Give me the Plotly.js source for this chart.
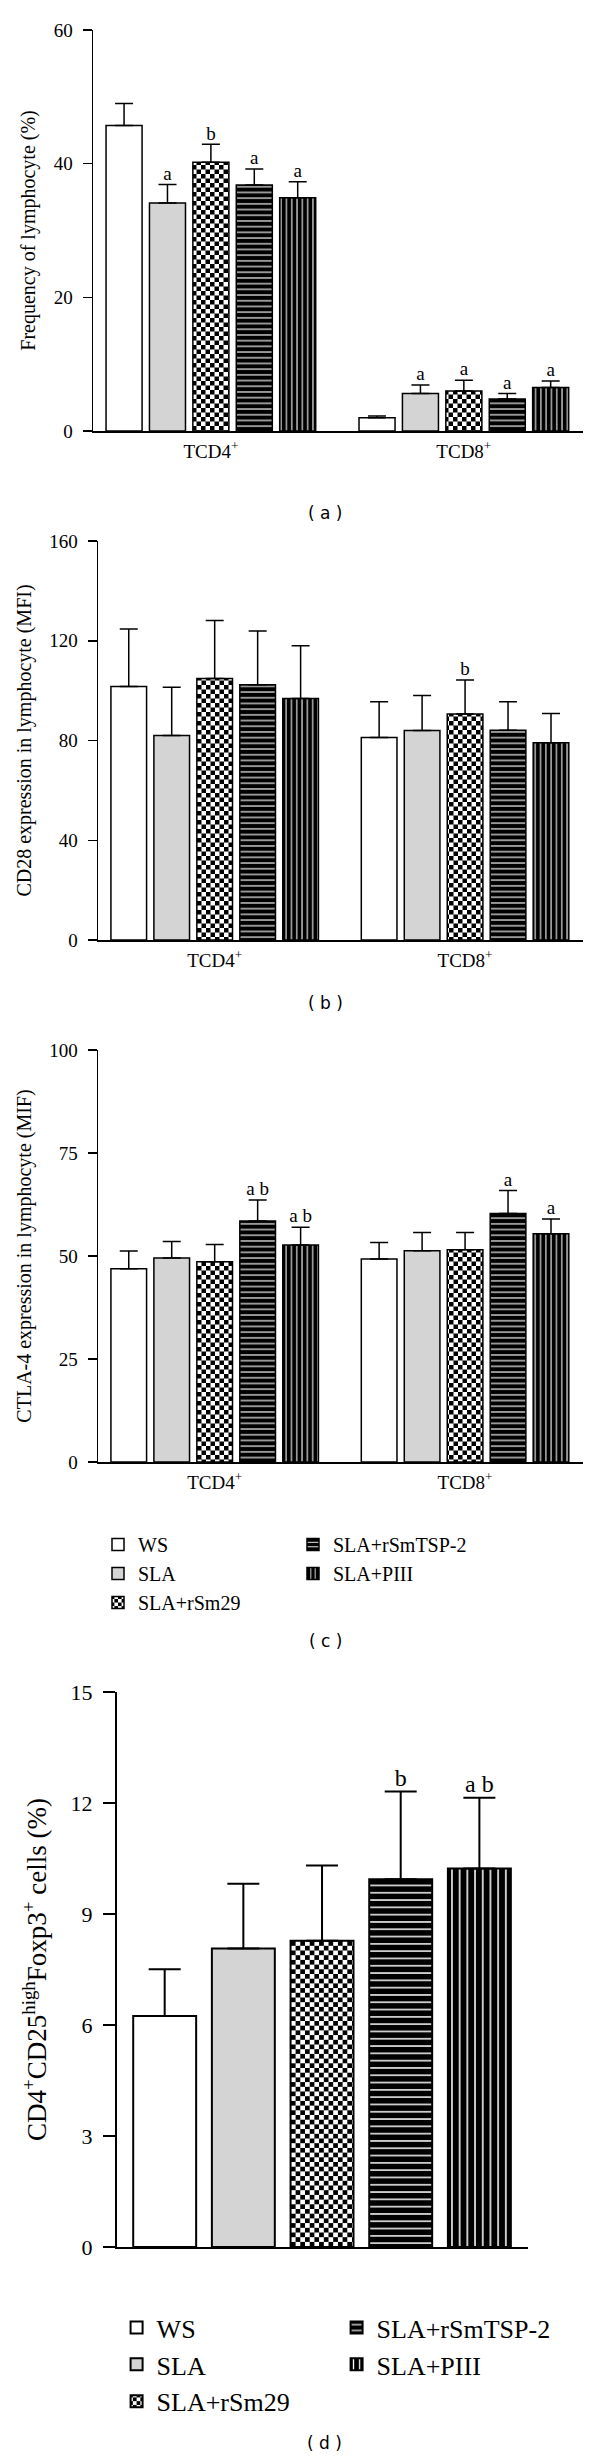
<!DOCTYPE html>
<html><head><meta charset="utf-8">
<script src="https://cdn.plot.ly/plotly-3.0.1.min.js"></script>
<style>
html,body{margin:0;padding:0;background:#fff}
body{width:600px;height:2459px;position:relative;overflow:hidden}
.p{position:absolute;left:0;width:600px}
</style></head><body>
<div id="pa" class="p" style="top:0;height:525px"></div>
<div id="pb" class="p" style="top:525px;height:505px"></div>
<div id="pc" class="p" style="top:1030px;height:630px"></div>
<div id="pd" class="p" style="top:1660px;height:799px"></div>
<script>
// ---------- data ----------
const groups = ['WS', 'SLA', 'SLA+rSm29', 'SLA+rSmTSP-2', 'SLA+PIII'];
const cellTypes = ['TCD4<sup>+</sup>', 'TCD8<sup>+</sup>'];
const legendRank = [1, 3, 5, 2, 4];

// (a) Frequency of lymphocyte (%)   [TCD4+, TCD8+] per group
const freqMean = [[45.7, 2.0], [34.1, 5.6], [40.2, 6.0], [36.8, 4.8], [34.9, 6.5]];
const freqErr  = [[3.3, 0.25], [2.8, 1.3], [2.7, 1.6], [2.4, 0.8], [2.4, 1.0]];
const freqSig  = [['', ''], ['a', 'a'], ['b', 'a'], ['a', 'a'], ['a', 'a']];

// (b) CD28 expression in lymphocyte (MFI)
const cd28Mean = [[101.7, 81.2], [82.0, 84.0], [104.9, 90.6], [102.4, 84.1], [96.8, 79.1]];
const cd28Err  = [[23.0, 14.3], [19.4, 14.0], [23.2, 13.7], [21.5, 11.4], [21.2, 11.7]];
const cd28Sig  = [['', ''], ['', ''], ['', 'b'], ['', ''], ['', '']];

// (c) CTLA-4 expression in lymphocyte (MIF)
const ctlaMean = [[46.9, 49.3], [49.5, 51.3], [48.6, 51.5], [58.5, 60.3], [52.7, 55.4]];
const ctlaErr  = [[4.3, 4.0], [4.0, 4.4], [4.2, 4.2], [5.1, 5.6], [4.3, 3.6]];
const ctlaSig  = [['', ''], ['', ''], ['', ''], ['a b', 'a'], ['a b', 'a']];

// (d) CD4+CD25high Foxp3+ cells (%)
const tregMean = [6.24, 8.07, 8.28, 9.94, 10.23];
const tregErr  = [1.27, 1.75, 2.03, 2.37, 1.91];
const tregSig  = ['', '', '', 'b', 'a b'];

// ---------- style ----------
const SERIF = 'Liberation Serif, Times New Roman, serif';
const SANS = 'DejaVu Sans, Verdana, sans-serif';

function markerFor(i, sc) {
  const line = {color: '#000', width: sc.lw};
  if (i === 0) return {color: '#ffffff', line: line};
  if (i === 1) return {color: '#d4d4d4', line: line};
  if (i === 2) {
    const c = sc.chk, s = 2 * sc.chk;
    return {color: '#ffffff', line: line, pattern: {
      path: 'M0,0H' + c + 'V' + c + 'H0ZM' + c + ',' + c + 'H' + s + 'V' + s + 'H' + c + 'Z',
      size: s, fgcolor: '#000', bgcolor: '#fff', fillmode: 'replace'}};
  }
  if (i === 3) return {color: '#000', line: line,
    pattern: {shape: '-', size: sc.hs, solidity: 0.2, fgcolor: '#fff', bgcolor: '#000', fillmode: 'replace'}};
  return {color: '#000', line: line,
    pattern: {shape: '|', size: sc.vs, solidity: 0.2, fgcolor: '#fff', bgcolor: '#000', fillmode: 'replace'}};
}

function axisY(range, dtick, title, fs, sc) {
  return {
    range: range, dtick: dtick, ticks: 'outside', ticklen: sc.tl, tickwidth: sc.aw, tickcolor: '#000',
    showline: true, linewidth: sc.aw, linecolor: '#000', showgrid: false, zeroline: false,
    tickfont: {family: SERIF, size: fs.tick, color: '#000'}, ticklabelstandoff: 6,
    title: {text: title, font: {family: SERIF, size: fs.title, color: '#000'}, standoff: fs.standoff},
    fixedrange: true
  };
}

function groupedPanel(id, H, mar, means, errs, sigs, yr, dtick, ytitle, label, labelY, legend) {
  const sc = {lw: 1.5, aw: 1.5, tl: 9, ew: 1.5, cap: 9, chk: 4.5, hs: 5.7, vs: 5.3};
  const fs = {tick: 19, title: 20, sig: 19, standoff: 12};
  const traces = [];
  groups.forEach(function (g, i) {
    traces.push({
      type: 'bar', name: g, x: cellTypes, y: means[i], offsetgroup: 'g' + i,
      marker: markerFor(i, sc),
      error_y: {type: 'data', array: errs[i], arrayminus: [0, 0], symmetric: false,
                color: '#000', thickness: sc.ew, width: sc.cap},
      showlegend: !!legend, legendrank: legendRank[i], hoverinfo: 'skip'
    });
  });
  groups.forEach(function (g, i) {
    const xs = [], ys = [], ts = [];
    cellTypes.forEach(function (c, j) {
      if (sigs[i][j]) { xs.push(c); ys.push(means[i][j] + errs[i][j]); ts.push(sigs[i][j]); }
    });
    // keep an entry per series so the offset groups stay aligned with the bars
    traces.push({
      type: 'scatter', mode: 'text', x: xs, y: ys, text: ts, textposition: 'top center',
      textfont: {family: SERIF, size: fs.sig, color: '#000'},
      offsetgroup: 'g' + i, showlegend: false, hoverinfo: 'skip', cliponaxis: false
    });
  });
  const plotW = 600 - mar.l - mar.r, plotH = H - mar.t - mar.b;
  const layout = {
    width: 600, height: H, margin: {l: mar.l, r: mar.r, t: mar.t, b: mar.b, pad: 0},
    paper_bgcolor: '#fff', plot_bgcolor: '#fff', font: {family: SERIF, color: '#000'},
    barmode: 'group', bargap: 0.142, bargroupgap: 0.17, scattermode: 'group', scattergap: 0.142,
    xaxis: {type: 'category', categoryarray: cellTypes, categoryorder: 'array',
            range: [-0.466, 1.471], showline: true, linecolor: '#000', linewidth: 1.5,
            ticks: '', showgrid: false, zeroline: false, ticklabelstandoff: 3,
            tickfont: {family: SERIF, size: 19, color: '#000'}, fixedrange: true},
    yaxis: axisY(yr, dtick, ytitle, fs, sc),
    showlegend: !!legend,
    annotations: [{text: label, xref: 'paper', yref: 'paper', x: (325 - mar.l) / plotW,
                   y: -(labelY - (H - mar.b)) / plotH, xanchor: 'center', yanchor: 'middle',
                   showarrow: false, font: {family: SANS, size: 17, color: '#000'}}]
  };
  if (legend) layout.legend = legend;
  Plotly.newPlot(id, traces, layout, {staticPlot: true, displayModeBar: false});
}

// (a)
groupedPanel('pa', 525, {l: 93, r: 17, t: 30, b: 94}, freqMean, freqErr, freqSig,
  [0, 60], 20, 'Frequency of lymphocyte (%)', '( a )', 513, null);
// (b)
groupedPanel('pb', 505, {l: 98, r: 17, t: 16.3, b: 90}, cd28Mean, cd28Err, cd28Sig,
  [0, 160], 40, 'CD28 expression in lymphocyte (MFI)', '( b )', 478, null);
// (c)
groupedPanel('pc', 630, {l: 98, r: 17, t: 20, b: 198}, ctlaMean, ctlaErr, ctlaSig,
  [0, 100], 25, 'CTLA-4 expression in lymphocyte (MIF)', '( c )', 611,
  {orientation: 'h', x: 0, xanchor: 'left', y: -0.153, yanchor: 'top',
   entrywidth: 150, entrywidthmode: 'pixels', traceorder: 'normal', tracegroupgap: 0,
   font: {family: SERIF, size: 20, color: '#000'}, bgcolor: 'rgba(0,0,0,0)'});

// (d)
(function () {
  const sc = {lw: 2, aw: 2, tl: 12, ew: 2, cap: 16, chk: 4.7, hs: 7.3, vs: 7.7};
  const fs = {tick: 22, title: 27, sig: 24, standoff: 16};
  const H = 799, mar = {l: 117.3, r: 72, t: 31.7, b: 212.3};
  const plotW = 600 - mar.l - mar.r, plotH = H - mar.t - mar.b;
  const traces = groups.map(function (g, i) {
    return {
      type: 'bar', name: g, x: [g], y: [tregMean[i]],
      marker: markerFor(i, sc),
      error_y: {type: 'data', array: [tregErr[i]], arrayminus: [0], symmetric: false,
                color: '#000', thickness: sc.ew, width: sc.cap},
      legendrank: legendRank[i], hoverinfo: 'skip'
    };
  });
  const sx = [], sy = [], st = [];
  groups.forEach(function (g, i) {
    if (tregSig[i]) { sx.push(g); sy.push(tregMean[i] + tregErr[i]); st.push(tregSig[i]); }
  });
  traces.push({
    type: 'scatter', mode: 'text', x: sx, y: sy, text: st, textposition: 'top center',
    textfont: {family: SERIF, size: fs.sig, color: '#000'},
    showlegend: false, hoverinfo: 'skip', cliponaxis: false
  });
  const layout = {
    width: 600, height: H, margin: {l: mar.l, r: mar.r, t: mar.t, b: mar.b, pad: 0},
    paper_bgcolor: '#fff', plot_bgcolor: '#fff', font: {family: SERIF, color: '#000'},
    barmode: 'overlay', bargap: 0.2,
    xaxis: {type: 'category', categoryarray: groups, categoryorder: 'array',
            range: [-0.606, 4.618], showline: true, linecolor: '#000', linewidth: 2,
            ticks: '', showticklabels: false, showgrid: false, zeroline: false, fixedrange: true},
    yaxis: axisY([0, 15], 3, 'CD4<sup>+</sup>CD25<sup>high</sup>Foxp3<sup>+</sup> cells (%)', fs, sc),
    showlegend: true,
    legend: {orientation: 'h', x: -0.001, xanchor: 'left', y: -0.103, yanchor: 'top',
             entrywidth: 175, entrywidthmode: 'pixels', traceorder: 'normal', tracegroupgap: 0,
             font: {family: SERIF, size: 26, color: '#000'}, bgcolor: 'rgba(0,0,0,0)'},
    annotations: [{text: '( d )', xref: 'paper', yref: 'paper', x: (325 - mar.l) / plotW,
                   y: -(2443 - 1660 - (H - mar.b)) / plotH, xanchor: 'center', yanchor: 'middle',
                   showarrow: false, font: {family: SANS, size: 17, color: '#000'}}]
  };
  Plotly.newPlot('pd', traces, layout, {staticPlot: true, displayModeBar: false});
})();
</script>
</body></html>
